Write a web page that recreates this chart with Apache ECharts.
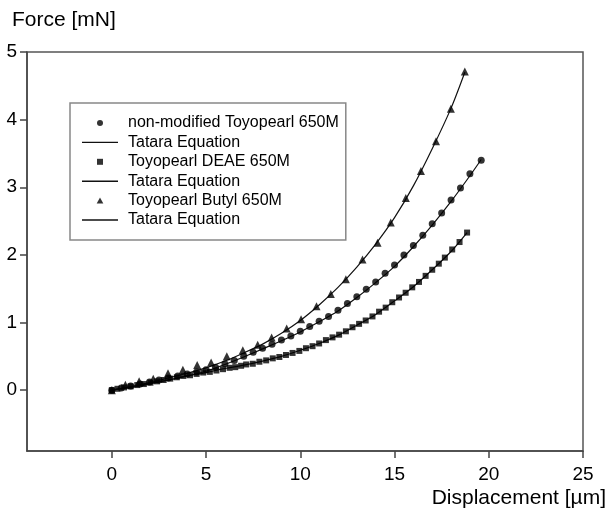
<!DOCTYPE html>
<html><head><meta charset="utf-8">
<script src="https://cdn.jsdelivr.net/npm/echarts@6/dist/echarts.min.js"></script>
<style>html,body{margin:0;padding:0;background:#fff}#c{width:608px;height:521px}</style>
</head><body><div id="c"></div>
<script>
const xTicks = [0, 5, 10, 15, 20, 25];
const yTicks = [0, 1, 2, 3, 4, 5];

const seriesNames = ['non-modified Toyopearl 650M', 'Toyopearl DEAE 650M', 'Toyopearl Butyl 650M'];
const fitNames = ['Tatara Equation', 'Tatara Equation ', 'Tatara Equation  '];

const nonModX = [0,0.5,1,1.5,2,2.5,3,3.5,4,4.5,5,5.5,6,6.5,7,7.5,8,8.5,9,9.5,10,10.5,11,11.5,12,12.5,13,13.5,14,14.5,15,15.5,16,16.5,17,17.5,18,18.5,19,19.6];
const nonModY = [0,0.03,0.06,0.09,0.12,0.15,0.18,0.21,0.24,0.27,0.30,0.34,0.39,0.44,0.50,0.56,0.62,0.68,0.74,0.80,0.87,0.94,1.02,1.09,1.18,1.28,1.38,1.49,1.60,1.73,1.85,2.00,2.14,2.29,2.46,2.62,2.81,2.99,3.20,3.40];
const nonModFitX = [0,1,2,3,4,5,6,7,8,9,10,11,12,13,14,15,16,17,18,19,19.6];
const nonModFitY = [0,0.04,0.09,0.15,0.21,0.28,0.38,0.49,0.61,0.73,0.86,1.01,1.17,1.37,1.59,1.83,2.12,2.44,2.79,3.17,3.41];

const deaeX = [0,0.3,0.65,1.0,1.35,1.7,2.05,2.4,2.75,3.1,3.45,3.8,4.15,4.5,4.85,5.2,5.55,5.9,6.25,6.55,6.86,7.13,7.48,7.83,8.19,8.54,8.89,9.24,9.59,9.95,10.3,10.65,11.0,11.36,11.71,12.06,12.42,12.77,13.12,13.47,13.83,14.18,14.53,14.88,15.24,15.59,15.94,16.3,16.65,17.0,17.35,17.67,18.06,18.45,18.85];
const deaeY = [0,0.02,0.04,0.055,0.075,0.09,0.11,0.13,0.15,0.17,0.19,0.21,0.22,0.24,0.26,0.27,0.29,0.31,0.33,0.34,0.36,0.38,0.39,0.42,0.44,0.47,0.49,0.52,0.55,0.58,0.62,0.65,0.69,0.74,0.78,0.82,0.87,0.93,0.98,1.03,1.09,1.16,1.22,1.30,1.37,1.44,1.52,1.60,1.69,1.78,1.87,1.96,2.08,2.19,2.33];
const deaeFitX = [0,1,2,3,4,5,6,7,8,9,10,11,12,13,14,15,16,17,18,18.85];
const deaeFitY = [0,0.05,0.10,0.15,0.21,0.26,0.32,0.37,0.43,0.50,0.59,0.69,0.81,0.96,1.12,1.32,1.53,1.78,2.05,2.33];

const butylX = [0,0.72,1.45,2.2,2.98,3.77,4.53,5.27,6.1,6.95,7.74,8.48,9.28,10.04,10.86,11.62,12.42,13.3,14.1,14.8,15.6,16.4,17.2,17.99,18.73];
const butylY = [0,0.08,0.13,0.17,0.25,0.30,0.37,0.41,0.50,0.59,0.67,0.78,0.91,1.05,1.24,1.42,1.64,1.93,2.18,2.48,2.84,3.24,3.68,4.16,4.71];
const butylFitX = [0,1,2,3,4,5,6,7,8,9,10,11,12,13,14,15,16,17,18,18.73];
const butylFitY = [0,0.05,0.11,0.18,0.25,0.33,0.43,0.55,0.68,0.84,1.03,1.26,1.52,1.82,2.16,2.55,3.02,3.57,4.17,4.70];

const FONT = 'Liberation Sans, Arial, Helvetica, sans-serif';
const zip = (xs, ys) => xs.map((x, i) => [x, ys[i]]);

const ICON_LINE = 'path://M0,0H36V1.4H0Z';
const ICON_SQUARE = 'path://M0,0H10V10H0Z';
const ICON_TRIANGLE = 'path://M5,0L10,9H0Z';

function scatter(name, xs, ys, symbol, size) {
  return { name, type: 'scatter', data: zip(xs, ys), symbol, symbolSize: size,
    itemStyle: { color: '#000' }, z: 3, animation: false };
}
function fit(name, xs, ys) {
  return { name, type: 'line', data: zip(xs, ys), symbol: 'none', smooth: 0.3,
    lineStyle: { color: '#111', width: 1.2 }, itemStyle: { color: '#111' }, z: 2, animation: false };
}

const chart = echarts.init(document.getElementById('c'), null, { renderer: 'canvas' });
chart.setOption({
  backgroundColor: '#fff',
  animation: false,
  title: [
    { text: 'Force [mN]', left: 12, top: 10, padding: 0,
      textStyle: { fontFamily: FONT, fontSize: 21, fontWeight: 'normal', color: '#000' } },
    { text: 'Displacement [µm]', right: 2, top: 488, padding: 0,
      textStyle: { fontFamily: FONT, fontSize: 21, fontWeight: 'normal', color: '#000' } }
  ],
  grid: { left: 27, right: 25, top: 52, bottom: 70, show: true, borderColor: '#555', borderWidth: 1.5,
    outerBoundsMode: 'none', containLabel: false },
  legend: {
    orient: 'vertical', left: 70, top: 103, padding: [12, 7, 12, 12],
    itemWidth: 36, itemHeight: 6, itemGap: 3.4,
    borderColor: '#888', borderWidth: 1.5, backgroundColor: '#fff',
    selectedMode: false, symbolKeepAspect: true,
    textStyle: { fontFamily: FONT, fontSize: 16, color: '#000', lineHeight: 16, padding: [0, 0, 0, 5] },
    data: [
      { name: seriesNames[0], icon: 'circle' },
      { name: fitNames[0], icon: ICON_LINE },
      { name: seriesNames[1], icon: ICON_SQUARE },
      { name: fitNames[1], icon: ICON_LINE },
      { name: seriesNames[2], icon: ICON_TRIANGLE },
      { name: fitNames[2], icon: ICON_LINE }
    ]
  },
  xAxis: {
    type: 'value', min: -4.5, max: 25,
    splitLine: { show: false },
    axisLine: { onZero: false, lineStyle: { color: '#444', width: 1.5 } },
    axisTick: { customValues: xTicks, length: 7, lineStyle: { color: '#444', width: 1.5 } },
    axisLabel: { customValues: xTicks, margin: 14, fontSize: 19, color: '#000', fontFamily: FONT }
  },
  yAxis: {
    type: 'value', min: -0.9, max: 5,
    splitLine: { show: false },
    axisLine: { onZero: false, lineStyle: { color: '#444', width: 1.5 } },
    axisTick: { customValues: yTicks, length: 7, lineStyle: { color: '#444', width: 1.5 } },
    axisLabel: { customValues: yTicks, margin: 10, fontSize: 19, color: '#000', fontFamily: FONT }
  },
  series: [
    fit(fitNames[0], nonModFitX, nonModFitY),
    fit(fitNames[1], deaeFitX, deaeFitY),
    fit(fitNames[2], butylFitX, butylFitY),
    scatter(seriesNames[0], nonModX, nonModY, 'circle', 7),
    scatter(seriesNames[1], deaeX, deaeY, 'rect', 6),
    scatter(seriesNames[2], butylX, butylY, 'triangle', 8)
  ]
});
</script></body></html>
